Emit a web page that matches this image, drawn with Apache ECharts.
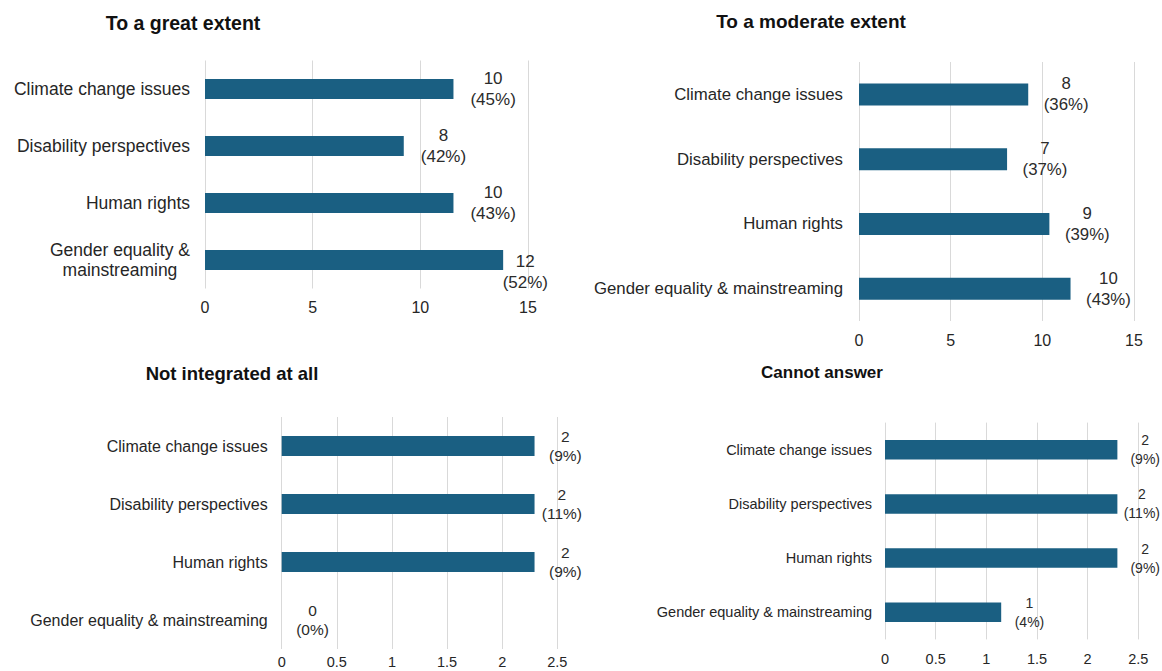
<!DOCTYPE html>
<html>
<head>
<meta charset="utf-8">
<script src="https://cdn.jsdelivr.net/npm/echarts/dist/echarts.min.js"></script>
<style>
html, body { margin: 0; padding: 0; background: #ffffff; }
#chart { width: 1162px; height: 671px; }
</style>
</head>
<body>
<div id="chart"></div>
<script>
// ---------- DATA ----------
const categories = ['Climate change issues', 'Disability perspectives', 'Human rights', 'Gender equality & mainstreaming'];
const panelTitles = ['To a great extent', 'To a moderate extent', 'Not integrated at all', 'Cannot answer'];

const greatCounts = [10, 8, 10, 12];
const greatPercents = [45, 42, 43, 52];

const moderateCounts = [8, 7, 9, 10];
const moderatePercents = [36, 37, 39, 43];

const notIntegratedCounts = [2, 2, 2, 0];
const notIntegratedPercents = [9, 11, 9, 0];

const cannotAnswerCounts = [2, 2, 2, 1];
const cannotAnswerPercents = [9, 11, 9, 4];

const topTicks = [0, 5, 10, 15];
const bottomTicks = [0, 0.5, 1, 1.5, 2, 2.5];

// ---------- LAYOUT / STYLE ----------
const FONT = "'Liberation Sans', Arial, sans-serif";
const BAR_COLOR = '#1a5f82';
const panels = [
  { counts: greatCounts, pcts: greatPercents, ticks: topTicks,
    left: 205, top: 60.5, width: 323, height: 228, barWidth: 20, barMax: 13,
    catSize: 17.5, catMargin: 15, lblSize: 17, lblLH: 20.5, gap: 17, limit: 548,
    tickSize: 16, tickMargin: 10.5, titleX: 183, titleY: 23, titleSize: 19.5, nudge: { 3: 12 }, wrap: true },
  { counts: moderateCounts, pcts: moderatePercents, ticks: topTicks,
    left: 859, top: 62, width: 275, height: 259, barWidth: 22, barMax: 13,
    catSize: 16.8, catMargin: 16, lblSize: 16.8, lblLH: 21, gap: 15.5, limit: 1160,
    tickSize: 16, tickMargin: 11, titleX: 811, titleY: 21, titleSize: 19, nudge: {} },
  { counts: notIntegratedCounts, pcts: notIntegratedPercents, ticks: bottomTicks,
    left: 281.7, top: 417, width: 275.6, height: 232, barWidth: 20, barMax: 2.18,
    catSize: 16, catMargin: 14, lblSize: 15.5, lblLH: 19, gap: 14.5, limit: 582,
    tickSize: 14.5, tickMargin: 5, titleX: 232, titleY: 373, titleSize: 18.5, nudge: {} },
  { counts: cannotAnswerCounts, pcts: cannotAnswerPercents, ticks: bottomTicks,
    left: 885, top: 422.6, width: 253.3, height: 216.8, barWidth: 19.5, barMax: 2.18,
    catSize: 14.5, catMargin: 13, lblSize: 14, lblLH: 19, gap: 13.5, limit: 1160,
    tickSize: 14.5, tickMargin: 12.5, titleX: 822, titleY: 372, titleSize: 17, nudge: {} }
];

const grid = [], xAxis = [], yAxis = [], series = [], graphic = [];

panels.forEach(function (P, i) {
  grid.push({ left: P.left, top: P.top, width: P.width, height: P.height, containLabel: false, outerBoundsMode: 'none' });

  const tmin = P.ticks[0], tmax = P.ticks[P.ticks.length - 1], tint = P.ticks[1] - P.ticks[0];
  // visible axis: ticks and gridlines
  xAxis.push({
    type: 'value', gridIndex: i, min: tmin, max: tmax, interval: tint,
    axisLine: { show: false }, axisTick: { show: false },
    splitLine: { show: true, lineStyle: { color: '#d9d9d9', width: 1 } },
    axisLabel: { fontSize: P.tickSize, fontFamily: FONT, color: '#262626', margin: P.tickMargin }
  });
  // scale that the bars are drawn on (as in the source figure)
  xAxis.push({
    type: 'value', gridIndex: i, min: 0, max: P.barMax, show: false,
    splitLine: { show: false }
  });

  yAxis.push({
    type: 'category', gridIndex: i, data: categories, inverse: true,
    axisLine: { show: false }, axisTick: { show: false }, splitLine: { show: false },
    axisLabel: {
      margin: P.catMargin, fontSize: P.catSize, fontFamily: FONT, color: '#262626',
      formatter: function (v) {
        if (P.wrap && v === 'Gender equality & mainstreaming') {
          return '{c|Gender equality &}\n{c|mainstreaming}';
        }
        return '{c|' + v + '}';
      },
      rich: { c: { align: 'center', fontSize: P.catSize, fontFamily: FONT, color: '#262626', lineHeight: 19.5 } }
    }
  });

  series.push({
    type: 'bar', xAxisIndex: 2 * i + 1, yAxisIndex: i,
    data: P.counts, barWidth: P.barWidth,
    itemStyle: { color: BAR_COLOR },
    silent: true, animation: false,
    label: {
      show: true, position: 'right', distance: P.gap,
      formatter: function (p) {
        return '{v|' + p.value + '}\n{v|(' + P.pcts[p.dataIndex] + '%)}';
      },
      rich: { v: { align: 'center', fontSize: P.lblSize, fontFamily: FONT, color: '#2b2b2b', lineHeight: P.lblLH } }
    },
    labelLayout: function (p) {
      const r = p.labelRect;
      let x = r.x;
      if (x + r.width > P.limit) x = P.limit - r.width;
      const dy = P.nudge[p.dataIndex] || 0;
      return { x: x, y: r.y + r.height / 2 + dy, align: 'left', verticalAlign: 'middle' };
    }
  });

  graphic.push({
    type: 'text', x: P.titleX, y: P.titleY, silent: true,
    style: {
      text: panelTitles[i], fontSize: P.titleSize, fontWeight: 'bold', fontFamily: FONT,
      fill: '#111111', align: 'center', verticalAlign: 'middle'
    }
  });
});

const chart = echarts.init(document.getElementById('chart'), null, { renderer: 'svg' });
chart.setOption({
  animation: false,
  backgroundColor: '#ffffff',
  grid: grid, xAxis: xAxis, yAxis: yAxis, series: series, graphic: graphic
});
</script>
</body>
</html>
